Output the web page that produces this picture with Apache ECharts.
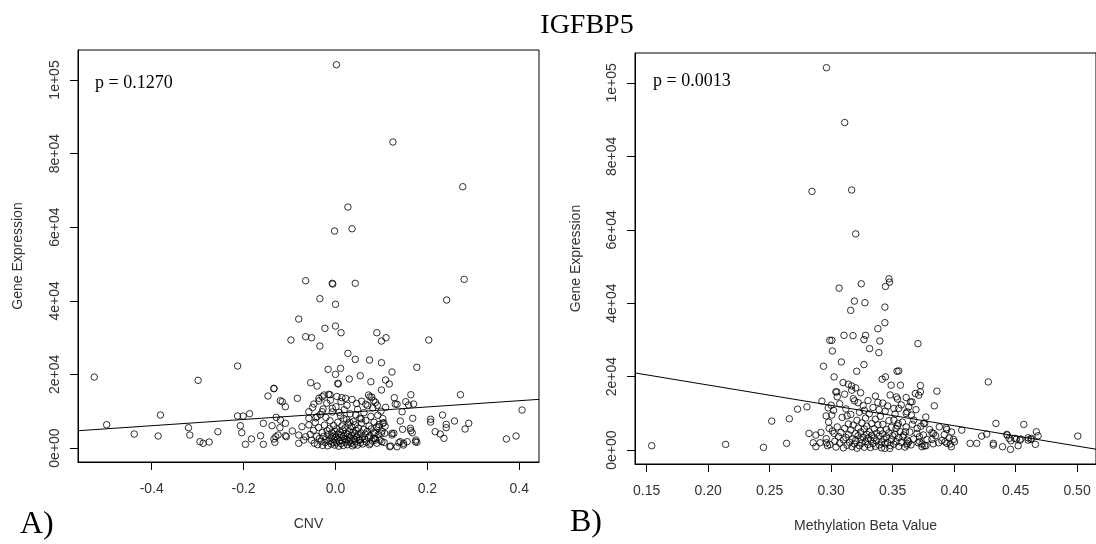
<!DOCTYPE html>
<html>
<head>
<meta charset="utf-8">
<script src="https://cdn.jsdelivr.net/npm/echarts@6/dist/echarts.min.js"></script>
<style>
  html, body { margin: 0; padding: 0; background: #fff; }
  #chart { width: 1096px; height: 544px; }
</style>
</head>
<body>
<div id="chart"></div>
<script>
// ==============================================================
// data
// ==============================================================
var geneName = 'IGFBP5';
var panelTags = ['A)', 'B)'];
var pValues = ['p = 0.1270', 'p = 0.0013'];
var xNames = ['CNV', 'Methylation Beta Value'];
var yName = 'Gene Expression';

var yTicks = [0, 20000, 40000, 60000, 80000, 100000];
var yTickLabels = ['0e+00', '2e+04', '4e+04', '6e+04', '8e+04', '1e+05'];
var cnvTicks = [-0.4, -0.2, 0, 0.2, 0.4];
var cnvTickLabels = ['-0.4', '-0.2', '0.0', '0.2', '0.4'];
var methTicks = [0.15, 0.2, 0.25, 0.3, 0.35, 0.4, 0.45, 0.5];
var methTickLabels = ['0.15', '0.20', '0.25', '0.30', '0.35', '0.40', '0.45', '0.50'];

// fitted line: [intercept, slope]
var cnvFit = [9460, 8500];
var methFit = [28785, -55410];

// CNV vs expression
var cnvPoints = [
  [0.002,104150],[0.125,83140],[0.277,71000],[0.027,65480],[-0.002,58960],[0.036,59580],
  [-0.065,45450],[-0.007,44750],[-0.006,44560],[0.043,44750],[0.280,45830],[0.242,40210],[-0.034,40570],[0.0,39040],
  [-0.080,35050],[-0.023,32520],[0.0,33150],[0.012,31330],[0.090,31330],[0.100,29070],[0.110,29970],[0.203,29340],
  [-0.097,29340],[-0.065,30240],[-0.052,29970],[-0.034,27710],[0.027,25730],[0.043,24100],[0.074,23910],[0.100,23180],
  [0.177,21930],[-0.016,21380],[0.011,21650],[0.0,20020],[0.123,20650],[0.030,18750],[0.054,19640],[0.005,17580],
  [0.006,17400],[0.077,18010],[0.109,18480],[0.117,17390],[-0.054,17740],[-0.040,16850],[-0.134,16220],[0.100,15760],
  [0.272,14480],[0.072,14400],[-0.012,14480],[-0.029,13940],[0.014,13670],[-0.083,13500],[0.128,13670],[0.164,14480],
  [0.153,12580],[0.170,11950],[0.130,11950],[-0.116,12580],[-0.109,11220],[0.406,10320],[0.145,9860],[0.168,8070],
  [0.207,7800],[0.207,7050],[0.233,8970],[0.259,7340],[0.290,6710],[0.282,5160],[0.241,6440],[0.241,5520],[0.217,4430],
  [0.228,3800],[0.236,2630],[0.372,2450],[0.393,3260],[0.164,4700],[0.174,1710],[0.148,1280],[0.118,350],[0.134,350],
  [0.141,1710],[0.123,3990],[0.105,6880],[0.141,7340],[0.107,3990],[0.085,3990],
  [-0.525,19290],[-0.498,6330],[-0.438,3800],[-0.381,8970],[-0.386,3260],[-0.299,18390],[-0.320,5520],[-0.317,3530],
  [-0.295,1710],[-0.288,1280],[-0.275,1630],[-0.256,4430],[-0.213,22280],[-0.213,8690],[-0.201,8690],[-0.187,9320],
  [-0.207,6060],[-0.204,4160],[-0.196,1000],[-0.183,2450],[-0.163,3340],[-0.157,1000],[-0.157,6710],[-0.134,16110],
  [-0.147,14130],[-0.120,12850],[-0.129,8340],[-0.120,7610],[-0.109,6710],[-0.138,6060],[-0.121,5520],[-0.109,3340],
  [-0.130,3070],[-0.134,2450],[-0.132,1550],[-0.094,4620],
  [-0.036,13500],[-0.025,14400],[-0.015,14590],[-0.047,11950],[-0.007,10790],[-0.029,9860],[-0.058,9860],[-0.058,8070],
  [-0.040,8500],[-0.073,5790],[-0.080,3530],[-0.065,3070],[-0.069,2170],[-0.080,1280],[-0.107,3070],[-0.125,3530],
  [0.109,11060],[0.075,13900],[0.083,12850],[0.022,13500],[0.146,5080],[0.163,5350],[0.167,4160],[0.175,2170],
  [0.177,1550],[0.156,1710],[0.148,815],[0.138,1440],[0.120,540],[0.123,3530],[0.127,3990],[0.100,3990],[0.101,1710],
  [0.087,2170],[0.103,6710],[0.094,5790],[0.083,2630],[0.054,2170],[0.076,1280],[0.134,11870],[0.159,11680],
  [-0.052,2100],[-0.048,4800],[-0.046,1300],[-0.044,6900],[-0.041,3200],[-0.039,900],[-0.037,5600],[-0.035,2600],
  [-0.033,9100],[-0.031,1800],[-0.029,4200],[-0.028,700],[-0.026,3100],[-0.024,6200],[-0.023,1500],[-0.021,8300],
  [-0.020,2400],[-0.018,4700],[-0.017,600],[-0.016,3600],[-0.014,1900],[-0.013,5300],[-0.012,7400],[-0.010,2800],
  [-0.009,1100],[-0.008,4100],[-0.007,9800],[-0.006,3300],[-0.005,1600],[-0.004,6100],[-0.003,2200],[-0.002,800],
  [-0.001,4500],[0.000,3000],[0.001,11200],[0.002,1400],[0.003,5200],[0.004,2500],[0.005,7000],[0.006,3800],
  [0.007,500],[0.008,1900],[0.009,4400],[0.010,2900],[0.011,8800],[0.012,1200],[0.013,3500],[0.014,6000],
  [0.015,2100],[0.016,4900],[0.017,700],[0.018,3200],[0.019,10400],[0.020,2600],[0.021,5500],[0.022,1600],
  [0.023,4000],[0.024,7700],[0.025,2300],[0.026,900],[0.027,3700],[0.028,6500],[0.029,1800],[0.030,4600],
  [0.031,2700],[0.032,9300],[0.033,1300],[0.034,3400],[0.035,5800],[0.036,2000],[0.037,600],[0.038,4300],
  [0.039,7200],[0.040,2500],[0.041,1000],[0.042,3900],[0.043,6300],[0.044,1700],[0.045,4800],[0.046,12100],
  [0.047,2900],[0.048,800],[0.049,3600],[0.050,5400],[0.052,2200],[0.053,8100],[0.054,1400],[0.055,4100],
  [0.057,6800],[0.058,3000],[0.059,1100],[0.061,5000],[0.062,9600],[0.063,2400],[0.065,3800],[0.066,7500],
  [0.067,1600],[0.069,4500],[0.070,11500],[0.071,2800],[0.073,6000],[0.074,900],[0.075,3400],[0.077,8600],
  [0.078,5200],[0.080,1900],[0.081,10900],[0.083,4200],[0.084,7000],[0.086,2600],[0.087,12400],[0.089,5700],
  [0.090,1300],[0.092,8900],[0.093,3700],[0.095,6400],[0.097,2100],[0.099,10000],[0.101,4600],[0.103,8000],
  [0.106,1500],[0.108,5900],[-0.058,6300],[-0.055,3700],[-0.050,11000],[-0.043,8200],[-0.036,12800],[-0.027,10600],
  [-0.019,12200],[-0.011,13000],[0.003,14000],[0.012,12600],[0.025,11600],[0.036,13200],[0.048,10500],[0.057,12700],
  [0.066,11900],[0.079,13800],[0.091,11600],[0.008,9700],[0.018,8000],[0.031,7000],[0.044,9000],[0.056,7900]
];

// methylation beta vs expression
var methPoints = [
  [0.1541,1180],[0.2142,1540],[0.245,720],[0.2638,1820],[0.2517,7880],[0.266,8510],[0.2727,11140],[0.2803,11760],
  [0.2938,22820],[0.301,26980],[0.2925,13310],[0.282,4530],[0.2876,4080],[0.2917,4810],[0.2854,1980],[0.291,1980],
  [0.2962,1980],[0.2876,900],[0.297,1180],[0.2976,11490],[0.3005,9510],[0.2984,5900],[0.3024,4530],
  [0.2962,104150],[0.2844,70460],[0.311,89200],[0.3167,70830],[0.320,58880],[0.347,46650],
  [0.3065,44100],[0.3245,45290],[0.3442,44560],[0.3475,45730],[0.3189,40570],[0.3275,40130],[0.3159,38040],
  [0.3437,38940],[0.3437,34690],[0.338,33060],[0.2989,29890],[0.3006,29890],[0.3105,31250],[0.3178,31160],
  [0.328,31250],[0.3267,30080],[0.3396,29700],[0.3313,27630],[0.3388,26540],[0.3706,28990],[0.3083,23990],
  [0.3267,23280],[0.3208,21460],[0.3024,19920],[0.3536,21460],[0.3415,19290],[0.3442,19920],[0.3488,17660],
  [0.3564,17660],[0.3097,18390],[0.314,17930],[0.3167,17470],[0.32,16930],[0.3167,16300],[0.3038,15840],
  [0.3046,15840],[0.3531,14480],[0.3685,15410],[0.4278,18560],[0.3726,17580],[0.3726,15840],[0.3712,14940],
  [0.386,16030],[0.3645,13120],[0.3631,11760],[0.3839,12040],[0.351,11330],[0.355,11330],[0.3761,7250],
  [0.3936,6060],[0.3941,5620],[0.4062,5430],[0.434,7250],[0.4567,6980],[0.4669,4970],[0.4683,3890],[0.5006,3800],
  [0.4265,4350],[0.4224,3800],[0.4429,4260],[0.4448,3170],[0.4507,2990],[0.4543,2990],[0.4602,2720],[0.4521,1170],
  [0.4459,190],[0.4394,900],[0.4319,1820],[0.4319,1360],[0.4184,1820],[0.413,1820],[0.4661,1550],[0.4629,3170],
  [0.3995,2900],[0.4003,2260],[0.3977,900],[0.3941,1820],[0.355,21550],[0.361,9970],[0.3672,8150],[0.3752,7250],
  [0.382,4700],[0.3698,4530],[0.3718,3610],[0.3874,1980],[0.382,2900],[0.3833,4530],[0.376,1170],[0.3739,900],
  [0.3707,1980],[0.3631,2260],[0.3617,1360],[0.3477,460],[0.3437,460],[0.3528,5900],[0.3545,7250],[0.351,8150],
  [0.3653,9510],[0.3617,10410],[0.3658,13120],[0.3928,2260],[0.3968,1630],[0.4432,4080],[0.4462,2530],
  [0.4494,3180],[0.4535,2720],[0.4602,3340],[0.4624,2900],[0.3617,1820],[0.3739,1630],[0.3771,1170],
  [0.3604,4970],[0.3583,3610],
  [0.296,3100],[0.298,7600],[0.299,1500],[0.301,5200],[0.302,10800],[0.303,2400],[0.304,800],[0.305,6300],
  [0.306,3700],[0.307,12600],[0.307,1900],[0.308,4800],[0.309,8900],[0.310,2800],[0.310,600],[0.311,5900],
  [0.312,3400],[0.312,11200],[0.313,1300],[0.314,7100],[0.314,4200],[0.315,2100],[0.316,9700],[0.316,5500],
  [0.317,900],[0.317,3000],[0.318,6800],[0.319,1700],[0.319,13400],[0.320,4500],[0.320,2600],[0.321,8100],
  [0.321,500],[0.322,3900],[0.322,6000],[0.323,1200],[0.323,10300],[0.324,2900],[0.324,4900],[0.325,7400],
  [0.325,1900],[0.326,3500],[0.326,12100],[0.327,5700],[0.327,800],[0.328,2300],[0.328,8700],[0.329,4300],
  [0.329,6500],[0.330,1500],[0.330,3200],[0.331,9900],[0.331,5000],[0.332,700],[0.332,2700],[0.333,7200],
  [0.333,4000],[0.334,11600],[0.334,1800],[0.335,5800],[0.335,3300],[0.336,8400],[0.336,1000],[0.337,4600],
  [0.337,2500],[0.338,6900],[0.338,13000],[0.339,3800],[0.339,1400],[0.340,5300],[0.340,9200],[0.341,2200],
  [0.341,600],[0.342,4400],[0.342,7000],[0.343,3000],[0.344,10600],[0.344,1700],[0.345,5600],[0.345,3600],
  [0.346,2000],[0.347,8000],[0.347,4700],[0.348,1200],[0.349,6200],[0.349,2800],[0.350,3900],[0.351,1600],
  [0.352,9800],[0.352,4300],[0.353,2300],[0.354,6600],[0.355,1000],[0.355,3400],[0.356,5000],[0.357,12300],
  [0.357,2100],[0.358,7600],[0.359,4100],[0.360,800],[0.361,6300],[0.362,2700],[0.364,4900],[0.365,1400],
  [0.366,7000],[0.367,3000],[0.369,11000],[0.370,5900],[0.372,2300],[0.373,6500],[0.375,4100],[0.377,9000],
  [0.378,2900],[0.380,5600],[0.383,1700],[0.385,3900],[0.388,6300],[0.390,2600],[0.392,4200],[0.396,3300],
  [0.398,4900],[0.305,14500],[0.311,15200],[0.318,14000],[0.324,15600],[0.330,13500],[0.336,14700],[0.342,12800],
  [0.348,15000],[0.354,13900],[0.361,14300],[0.300,12200],[0.296,9300],[0.313,9300],[0.327,10800],[0.339,11000],
  [0.346,12000],[0.322,12900]
];

// axis limits (R pads the data range by 4%)
var yRange = [-3800, 108150];
var cnvRange = [-0.5604, 0.4429];
var methRange = [0.1405, 0.5154];

// ==============================================================
// chart
// ==============================================================
var chart = echarts.init(document.getElementById('chart'), null, { renderer: 'canvas' });

var sans = 'Liberation Sans, Arial, sans-serif';
var serif = 'Liberation Serif, Times New Roman, serif';

function fitLine(fit, range) {
    return [
        [range[0], fit[0] + fit[1] * range[0]],
        [range[1], fit[0] + fit[1] * range[1]]
    ];
}

function xAxisFor(idx, range, ticks, labels, name) {
    return {
        type: 'value', gridIndex: idx, min: range[0], max: range[1],
        name: name, nameLocation: 'middle', nameGap: 55,
        nameTextStyle: { fontFamily: sans, fontSize: 14, color: '#333' },
        splitLine: { show: false },
        axisLine: { show: true, onZero: false, lineStyle: { color: '#000', width: 1 } },
        axisTick: { show: true, length: 8, customValues: ticks, lineStyle: { color: '#000' } },
        axisLabel: {
            customValues: ticks, margin: 20, fontFamily: sans, fontSize: 14, color: '#333',
            formatter: function (v) { return labels[ticks.indexOf(v)]; }
        }
    };
}

function yAxisFor(idx, gap) {
    return {
        type: 'value', gridIndex: idx, min: yRange[0], max: yRange[1],
        name: yName, nameLocation: 'middle', nameGap: gap,
        nameTextStyle: { fontFamily: sans, fontSize: 14, color: '#333' },
        splitLine: { show: false },
        axisLine: { show: true, onZero: false, lineStyle: { color: '#000', width: 1 } },
        axisTick: { show: true, length: 8, customValues: yTicks, lineStyle: { color: '#000' } },
        axisLabel: {
            customValues: yTicks, rotate: 90, margin: 16, fontFamily: sans, fontSize: 14, color: '#333',
            formatter: function (v) { return yTickLabels[yTicks.indexOf(v)]; }
        }
    };
}

function pointsSeries(idx, data) {
    return {
        type: 'scatter', xAxisIndex: idx, yAxisIndex: idx, data: data,
        symbol: 'circle', symbolSize: 6.5,
        itemStyle: { color: 'rgba(0,0,0,0)', borderColor: '#000', borderWidth: 1 },
        emphasis: { disabled: true }
    };
}

function lineSeries(idx, fit, range) {
    return {
        type: 'line', xAxisIndex: idx, yAxisIndex: idx, data: fitLine(fit, range),
        symbol: 'none', clip: true,
        lineStyle: { color: '#000', width: 1 }
    };
}

var option = {
    animation: false,
    backgroundColor: '#fff',
    grid: [
        { left: 78, top: 50, width: 461, height: 412, show: true, borderColor: '#000', borderWidth: 1 },
        // right edge of this box falls just outside the picture, as in the reference
        { left: 635, top: 53, width: 463, height: 411, show: true, borderColor: '#000', borderWidth: 1 }
    ],
    xAxis: [
        xAxisFor(0, cnvRange, cnvTicks, cnvTickLabels, xNames[0]),
        xAxisFor(1, methRange, methTicks, methTickLabels, xNames[1])
    ],
    yAxis: [yAxisFor(0, 53), yAxisFor(1, 52)],
    series: [
        pointsSeries(0, cnvPoints),
        lineSeries(0, cnvFit, cnvRange),
        pointsSeries(1, methPoints),
        lineSeries(1, methFit, methRange)
    ],
    graphic: [
        { type: 'text', x: 587, y: 26, style: { text: geneName, font: '28px ' + serif, fill: '#000', align: 'center', verticalAlign: 'middle' } },
        { type: 'text', x: 95, y: 83, style: { text: pValues[0], font: '18px ' + serif, fill: '#000', verticalAlign: 'middle' } },
        { type: 'text', x: 653, y: 81, style: { text: pValues[1], font: '18px ' + serif, fill: '#000', verticalAlign: 'middle' } },
        { type: 'text', x: 20, y: 525, style: { text: panelTags[0], font: '32px ' + serif, fill: '#000', verticalAlign: 'middle' } },
        { type: 'text', x: 570, y: 523, style: { text: panelTags[1], font: '32px ' + serif, fill: '#000', verticalAlign: 'middle' } }
    ]
};

chart.setOption(option);
</script>
</body>
</html>
